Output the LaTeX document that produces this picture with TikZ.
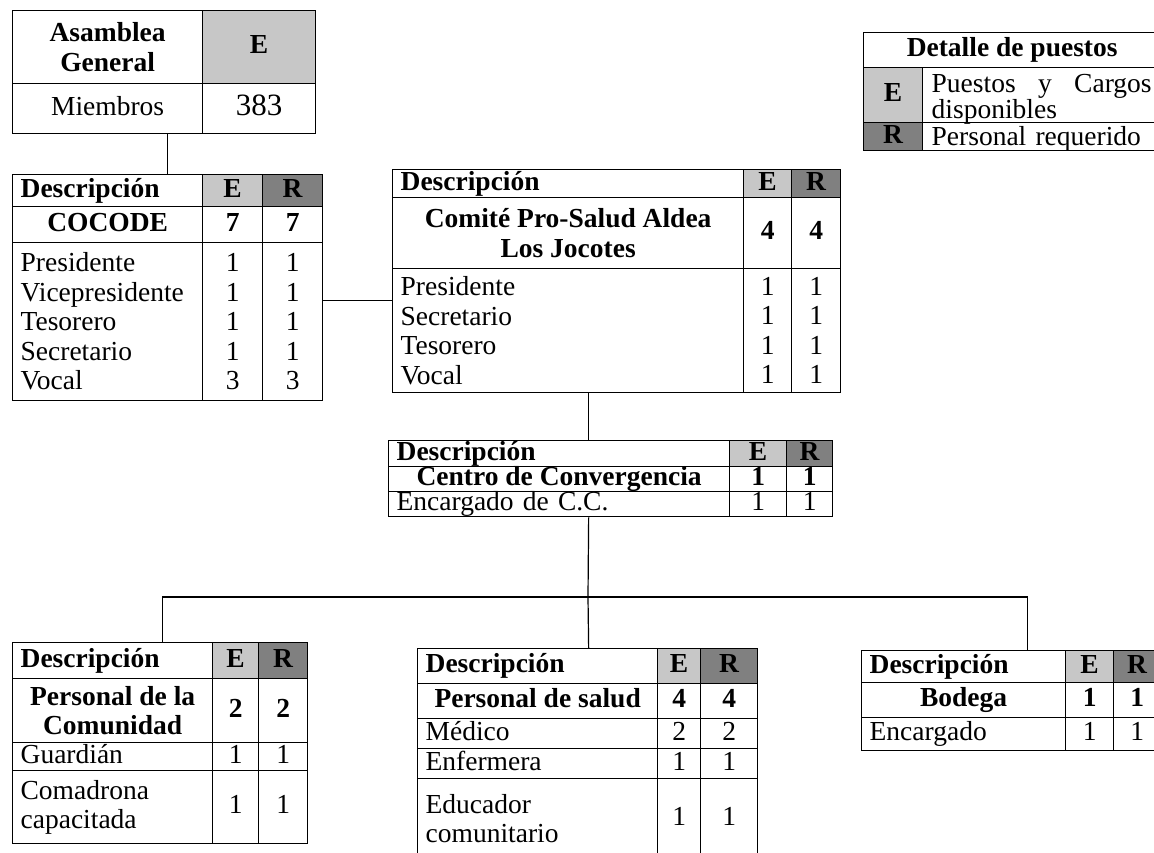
\documentclass[tikz,border=0pt]{standalone}
\usepackage{fontspec}
\setmainfont{Liberation Serif}

\tikzset{
  cell/.style={draw, line width=1.3pt, anchor=north west, inner xsep=8pt, inner ysep=0pt,
    font=\fontsize{27.5}{29.5}\selectfont},
  bf/.style={font=\fontsize{27.5}{29.5}\selectfont\bfseries},
  single/.style={text height=19pt, text depth=6pt},
  efill/.style={fill=black!22},
  rfill/.style={fill=black!50},
  lt/.style={align=left, text width=#1},
  link/.style={draw, line width=1.2pt},
}

\begin{document}
\begin{tikzpicture}[x=1pt, y=-1pt]

      \useasboundingbox (0,0) rectangle (1154,852);

      \begin{scope}[every node/.style={cell}]
        % asamblea
        \node[bf, align=center, minimum width=190pt, minimum height=73pt] (asamN) at (12,10) {Asamblea\\General};
        \node[bf, efill, single, minimum width=113pt, minimum height=73pt] (asamE) at (202,10) {E};
        \node[single, minimum width=190pt, minimum height=50pt] (asamM) at (12,83) {Miembros};
        \node[single, minimum width=113pt, minimum height=50pt, font=\fontsize{31}{31}\selectfont] (asamV) at (202,83) {383};

        % cocode
        \node[bf, single, lt=174pt, minimum height=32pt] (cocD) at (12,174) {Descripción};
        \node[bf, single, efill, minimum width=60pt, minimum height=32pt] (cocE) at (202,174) {E};
        \node[bf, single, rfill, minimum width=60pt, minimum height=32pt] (cocR) at (262,174) {R};
        \node[bf, single, minimum width=190pt, minimum height=36pt] (cocT) at (12,206) {COCODE};
        \node[bf, single, minimum width=60pt, minimum height=36pt] (cocTE) at (202,206) {7};
        \node[bf, single, minimum width=60pt, minimum height=36pt] (cocTR) at (262,206) {7};
        \node[lt=174pt, minimum height=158pt] (cocB) at (12,242) {Presidente\\Vicepresidente\\Tesorero\\Secretario\\Vocal};
        \node[align=center, minimum width=60pt, minimum height=158pt] (cocBE) at (202,242) {1\\1\\1\\1\\3};
        \node[align=center, minimum width=60pt, minimum height=158pt] (cocBR) at (262,242) {1\\1\\1\\1\\3};

        % comite
        \node[bf, single, lt=335pt, minimum height=28pt] (comD) at (392,169) {Descripción};
        \node[bf, single, efill, minimum width=48pt, minimum height=28pt] (comE) at (743,169) {E};
        \node[bf, single, rfill, minimum width=49pt, minimum height=28pt] (comR) at (791,169) {R};
        \node[bf, align=center, minimum width=351pt, minimum height=71pt] (comT) at (392,197) {Comité Pro-Salud Aldea\\Los Jocotes};
        \node[bf, single, minimum width=48pt, minimum height=71pt] (comTE) at (743,197) {4};
        \node[bf, single, minimum width=49pt, minimum height=71pt] (comTR) at (791,197) {4};
        \node[lt=335pt, minimum height=124pt] (comB) at (392,268) {Presidente\\Secretario\\Tesorero\\Vocal};
        \node[align=center, minimum width=48pt, minimum height=124pt] (comBE) at (743,268) {1\\1\\1\\1};
        \node[align=center, minimum width=49pt, minimum height=124pt] (comBR) at (791,268) {1\\1\\1\\1};

        % centro
        \node[bf, single, lt=325pt, minimum height=26pt] (cenD) at (388,440) {Descripción};
        \node[bf, single, efill, minimum width=57pt, minimum height=26pt] (cenE) at (729,440) {E};
        \node[bf, single, rfill, minimum width=46pt, minimum height=26pt] (cenR) at (786,440) {R};
        \node[bf, single, minimum width=341pt, minimum height=25pt] (cenT) at (388,466) {Centro de Convergencia};
        \node[bf, single, minimum width=57pt, minimum height=25pt] (cenTE) at (729,466) {1};
        \node[bf, single, minimum width=46pt, minimum height=25pt] (cenTR) at (786,466) {1};
        \node[single, lt=325pt, minimum height=25pt] (cenB) at (388,491) {Encargado de C.C.};
        \node[single, minimum width=57pt, minimum height=25pt] (cenBE) at (729,491) {1};
        \node[single, minimum width=46pt, minimum height=25pt] (cenBR) at (786,491) {1};

        % personal de la comunidad
        \node[bf, single, lt=184pt, minimum height=36pt] (pcD) at (12,642) {Descripción};
        \node[bf, single, efill, minimum width=46pt, minimum height=36pt] (pcE) at (212,642) {E};
        \node[bf, single, rfill, minimum width=49pt, minimum height=36pt] (pcR) at (258,642) {R};
        \node[bf, align=center, minimum width=200pt, minimum height=64pt] (pcT) at (12,678) {Personal de la\\Comunidad};
        \node[bf, single, minimum width=46pt, minimum height=64pt] (pcTE) at (212,678) {2};
        \node[bf, single, minimum width=49pt, minimum height=64pt] (pcTR) at (258,678) {2};
        \node[single, lt=184pt, minimum height=28pt] (pcG) at (12,742) {Guardián};
        \node[single, minimum width=46pt, minimum height=28pt] (pcGE) at (212,742) {1};
        \node[single, minimum width=49pt, minimum height=28pt] (pcGR) at (258,742) {1};
        \node[lt=184pt, minimum height=73pt] (pcC) at (12,770) {Comadrona\\capacitada};
        \node[single, minimum width=46pt, minimum height=73pt] (pcCE) at (212,770) {1};
        \node[single, minimum width=49pt, minimum height=73pt] (pcCR) at (258,770) {1};

        % personal de salud
        \node[bf, single, lt=224pt, minimum height=35pt] (psD) at (417,648) {Descripción};
        \node[bf, single, efill, minimum width=43pt, minimum height=35pt] (psE) at (657,648) {E};
        \node[bf, single, rfill, minimum width=57pt, minimum height=35pt] (psR) at (700,648) {R};
        \node[bf, single, minimum width=240pt, minimum height=35pt] (psT) at (417,683) {Personal de salud};
        \node[bf, single, minimum width=43pt, minimum height=35pt] (psTE) at (657,683) {4};
        \node[bf, single, minimum width=57pt, minimum height=35pt] (psTR) at (700,683) {4};
        \node[single, lt=224pt, minimum height=30pt] (psM) at (417,718) {Médico};
        \node[single, minimum width=43pt, minimum height=30pt] (psME) at (657,718) {2};
        \node[single, minimum width=57pt, minimum height=30pt] (psMR) at (700,718) {2};
        \node[single, lt=224pt, minimum height=30pt] (psF) at (417,748) {Enfermera};
        \node[single, minimum width=43pt, minimum height=30pt] (psFE) at (657,748) {1};
        \node[single, minimum width=57pt, minimum height=30pt] (psFR) at (700,748) {1};
        \node[lt=224pt, minimum height=80pt] (psC) at (417,778) {Educador\\comunitario};
        \node[single, minimum width=43pt, minimum height=80pt] (psCE) at (657,778) {1};
        \node[single, minimum width=57pt, minimum height=80pt] (psCR) at (700,778) {1};

        % bodega
        \node[bf, single, lt=188pt, minimum height=32pt] (boD) at (861,650) {Descripción};
        \node[bf, single, efill, minimum width=48pt, minimum height=32pt] (boE) at (1065,650) {E};
        \node[bf, single, rfill, minimum width=47pt, minimum height=32pt] (boR) at (1113,650) {R};
        \node[bf, single, minimum width=204pt, minimum height=35pt] (boT) at (861,682) {Bodega};
        \node[bf, single, minimum width=48pt, minimum height=35pt] (boTE) at (1065,682) {1};
        \node[bf, single, minimum width=47pt, minimum height=35pt] (boTR) at (1113,682) {1};
        \node[single, lt=188pt, minimum height=33pt] (boB) at (861,717) {Encargado};
        \node[single, minimum width=48pt, minimum height=33pt] (boBE) at (1065,717) {1};
        \node[single, minimum width=47pt, minimum height=33pt] (boBR) at (1113,717) {1};

        % detalle de puestos
        \node[bf, single, minimum width=297pt, minimum height=35pt] (legH) at (863,32) {Detalle de puestos};
        \node[bf, single, efill, minimum width=59pt, minimum height=55pt] (legE) at (863,67) {E};
        \node[align=justify, text width=220pt, minimum width=238pt, minimum height=55pt,
          text height=25pt, text depth=30pt, font=\fontsize{27.5}{20}\selectfont] (legEt) at (922,67) {Puestos y Cargos disponibles};
        \node[bf, single, rfill, minimum width=59pt, minimum height=28pt] (legR) at (863,122) {R};
        \node[lt=220pt, minimum width=238pt, minimum height=28pt, text height=21pt, text depth=4pt] (legRt) at (922,122) {Personal requerido};
      \end{scope}

      \coordinate (bus) at (588,597);

      \begin{scope}[every path/.style={link}]
        \path ([xshift=60pt]asamM.south) edge ([xshift=60pt]cocD.north);
        \path ([yshift=21pt]cocBR.east) coordinate (j1) edge (j1 -| comB.west);
        \path ([xshift=20.5pt]comB.south) coordinate (j2) edge (j2 |- cenD.north);
        \path ([xshift=29.5pt]cenB.south) edge (bus);
        \draw (bus) -| ([xshift=50pt]pcD.north);
        \draw (bus) -- ([xshift=51pt]psD.north);
        \draw (bus) -| ([xshift=64pt]boD.north);
      \end{scope}

    \end{tikzpicture}
\end{document}
